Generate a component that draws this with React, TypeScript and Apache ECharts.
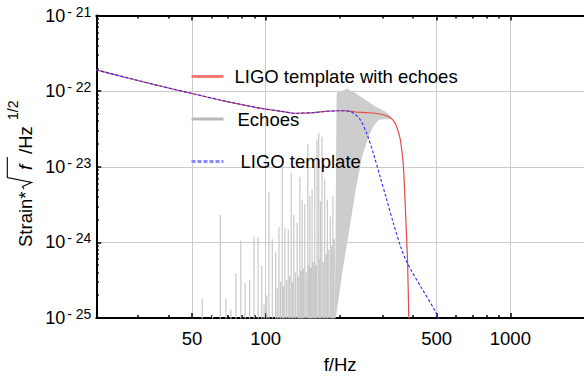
import React, { useEffect, useRef } from "react";
import * as echarts from "echarts";

const FONT = '"Liberation Sans", Arial, Helvetica, sans-serif';

// LIGO template (common part of both templates), f in Hz, strain*sqrt(f)/Hz^1/2
const templateFreq = [20.3, 27.6, 37.8, 50.0, 70.5, 96.3, 116.2, 132.4, 157.2, 175.3, 198.6, 211.9];
const templateStrain = [1.91e-22, 1.48e-22, 1.15e-22, 9.3e-23, 7.2e-23, 5.9e-23, 5.4e-23, 5.1e-23, 5.2e-23, 5.4e-23, 5.5e-23, 5.5e-23];

// tail of the plain LIGO template (blue dashed)
const templateTailFreq = [228.5, 243.3, 258.8, 275.5, 293.5, 312.2, 332.4, 359.1, 376.3, 394.4, 433.2, 491.0, 510.0];
const templateTailStrain = [5.1e-23, 4.2e-23, 2.75e-23, 1.5e-23, 7.4e-24, 3.7e-24, 1.8e-24, 8.1e-25, 5.6e-25, 4.2e-25, 2.5e-25, 1.26e-25, 9.5e-26];

// tail of the template with echoes (red)
const echoTemplateTailFreq = [232.2, 255.0, 280.0, 307.4, 327.1, 337.8, 346.0, 353.9, 360.0, 364.9, 369.0, 372.9, 376.5, 380.1, 384.9];
const echoTemplateTailStrain = [5.3e-23, 5.2e-23, 5.1e-23, 4.8e-23, 4.3e-23, 3.8e-23, 3.1e-23, 2.4e-23, 1.65e-23, 1.1e-23, 5.5e-24, 2.5e-24, 1.2e-24, 5.5e-25, 8e-26];

// echoes: dense oscillating band (upper / lower envelope)
const bandUpperFreq = [192.6, 195.8, 197.6, 204.8, 214.1, 232.2, 255.0, 280.0, 307.4, 327.1];
const bandUpperStrain = [1e-25, 8.9e-23, 9.8e-23, 9.8e-23, 1.07e-22, 9.3e-23, 7.6e-23, 6.2e-23, 5.3e-23, 4.5e-23];
const bandLowerFreq = [192.6, 204.8, 218.1, 232.2, 247.1, 263.0, 275.5, 288.7, 302.6, 317.0, 327.1];
const bandLowerStrain = [1e-25, 4.1e-25, 1.4e-24, 5.0e-24, 1.4e-23, 2.6e-23, 3.5e-23, 4.2e-23, 4.3e-23, 4.3e-23, 4.5e-23];

// echoes: individual spikes (peak heights)
const spikeFreq = [55.0, 60.7, 65.2, 68.8, 72.1, 75.5, 79.1, 82.4, 85.9, 89.6, 93.1, 96.3, 103.1, 106.4, 109.8, 113.3, 116.8, 119.8, 123.6, 127.1, 130.3, 134.4, 137.9, 140.9, 144.4, 148.6, 151.4, 154.7, 158.6, 162.1, 164.7, 167.4, 169.8, 174.2, 178.7, 183.7, 188.3];
const spikeStrain = [1.8e-25, 1.1e-25, 2.3e-24, 1.8e-25, 1.3e-25, 3.9e-25, 1.05e-24, 2.9e-25, 3.2e-25, 1.2e-24, 1.17e-24, 4.9e-25, 4.6e-24, 1.1e-24, 7.4e-25, 1.6e-24, 9.5e-24, 1.55e-24, 1.48e-24, 8.3e-24, 2.3e-24, 1.8e-24, 7.4e-24, 3.7e-24, 3.2e-24, 2.0e-23, 4.1e-24, 5.0e-24, 1.2e-23, 2.3e-23, 2.8e-23, 3.5e-24, 2.5e-23, 6.8e-24, 3.7e-24, 2.2e-24, 4.1e-24];
const lowSpikeFreq = [98.5, 101.0, 111.5, 115.0, 118.3, 121.7, 125.3, 128.7, 132.3, 136.1, 139.4, 142.6, 146.5, 150.0, 153.0, 156.6, 160.3, 166.0, 172.0, 176.5, 181.0, 186.0, 190.5];
const lowSpikeStrain = [1.5e-25, 2e-25, 2.5e-25, 3e-25, 2.6e-25, 3.2e-25, 3.6e-25, 3e-25, 4e-25, 3.5e-25, 4.2e-25, 4.5e-25, 4e-25, 5e-25, 4.6e-25, 5.5e-25, 5e-25, 6e-25, 5.5e-25, 7e-25, 8e-25, 9e-25, 1.1e-24];

// axes
const xMinHz = 20.3;
const xMaxHz = 2000;
const xMajorTicks = [50, 100, 500, 1000];
const xMinorTicks = [30, 40, 60, 70, 80, 90, 200, 300, 400, 600, 700, 800, 900];
const yMinExp = -25;
const yMaxExp = -21;
const yMinorMultipliers = [2, 3, 4, 5, 6, 7, 8, 9];

const SERIES_RED = "LIGO template with echoes";
const SERIES_GRAY = "Echoes";
const SERIES_BLUE = "LIGO template";

const lg = (v: number) => Math.log10(v);
const pts = (fs: number[], vs: number[]) => fs.map((f, i) => [lg(f), lg(vs[i])]);

const SOLID_ICON = "path://M0 0H32V3H0Z";
const DASH_ICON = "path://M0 0H4V3H0Z M6 0H10V3H6Z M12 0H16V3H12Z M18 0H22V3H18Z M24 0H28V3H24Z M30 0H32V3H30Z";

export default function App() {
  const ref = useRef<HTMLDivElement>(null);
  useEffect(() => {
    document.body.style.margin = "0";
    if (!ref.current) return;
    const chart = echarts.init(ref.current, null, { renderer: "svg" });

    const BOTTOM = yMinExp - 0.6;
    const spikeData: number[][] = [];
    const addSpikes = (fs: number[], vs: number[]) =>
      fs.forEach((f, i) => {
        spikeData.push([lg(f), BOTTOM], [lg(f), lg(vs[i])], [lg(f), BOTTOM]);
      });
    addSpikes(lowSpikeFreq, lowSpikeStrain);
    addSpikes(spikeFreq, spikeStrain);

    const xMin = lg(xMinHz);
    const xMax = lg(xMaxHz);
    const xMajor = xMajorTicks.map(lg);
    const xMinor = xMinorTicks.map(lg);
    const yMinor: number[] = [];
    for (let e = yMinExp; e < yMaxExp; e++) yMinorMultipliers.forEach((m) => yMinor.push(e + lg(m)));

    const black = "#000";
    const baseX = { type: "value", min: xMin, max: xMax, gridIndex: 0 };
    const baseY = { type: "value", min: yMinExp, max: yMaxExp, interval: 1, gridIndex: 0 };

    const option: any = {
      animation: false,
      grid: { left: 96.3, top: 15.5, bottom: 60.7, right: -2.7, containLabel: false },
      xAxis: [
        {
          ...baseX,
          position: "bottom",
          axisLine: { lineStyle: { color: black, width: 2 } },
          axisTick: { customValues: xMajor, inside: true, length: 5, lineStyle: { color: black, width: 1.5 } },
          axisLabel: {
            customValues: xMajor,
            formatter: (v: number) => String(Math.round(Math.pow(10, v))),
            fontSize: 18.5,
            fontFamily: FONT,
            color: black,
            margin: 11,
          },
          splitLine: { show: true, lineStyle: { color: "#cccccc", width: 1 } },
          name: "f/Hz",
          nameLocation: "middle",
          nameGap: 37,
          nameTextStyle: { fontSize: 18.5, fontFamily: FONT, color: black },
        },
        {
          ...baseX,
          position: "bottom",
          axisLine: { show: false },
          axisTick: { customValues: xMinor, inside: true, length: 3, lineStyle: { color: black, width: 1.5 } },
          axisLabel: { show: false },
          splitLine: { show: false },
        },
        {
          ...baseX,
          position: "top",
          axisLine: { lineStyle: { color: black, width: 2 } },
          axisTick: { customValues: xMajor, inside: true, length: 5, lineStyle: { color: black, width: 1.5 } },
          axisLabel: { show: false },
          splitLine: { show: false },
        },
        {
          ...baseX,
          position: "top",
          axisLine: { show: false },
          axisTick: { customValues: xMinor, inside: true, length: 3, lineStyle: { color: black, width: 1.5 } },
          axisLabel: { show: false },
          splitLine: { show: false },
        },
      ],
      yAxis: [
        {
          ...baseY,
          position: "left",
          axisLine: { lineStyle: { color: black, width: 2 } },
          axisTick: { inside: true, length: 5, lineStyle: { color: black, width: 1.5 } },
          axisLabel: {
            margin: 5,
            formatter: (v: number) => `{a|10}{b|- ${Math.abs(Math.round(v))}}`,
            rich: {
              a: { fontSize: 18, fontFamily: FONT, color: black, lineHeight: 22 },
              b: { fontSize: 14, fontFamily: FONT, color: black, lineHeight: 14, verticalAlign: "top", padding: [0, 0, 0, 2] },
            },
          },
          splitLine: { show: true, lineStyle: { color: "#cccccc", width: 1 } },
        },
        {
          ...baseY,
          position: "left",
          axisLine: { show: false },
          axisTick: { customValues: yMinor, inside: true, length: 2.5, lineStyle: { color: black, width: 1.5 } },
          axisLabel: { show: false },
          splitLine: { show: false },
        },
      ],
      legend: {
        orient: "vertical",
        left: 191.5,
        top: 66.5,
        padding: 0,
        itemWidth: 32,
        itemHeight: 3,
        itemGap: 22.5,
        selectedMode: false,
        textStyle: { fontSize: 18.5, fontFamily: FONT, color: black, lineHeight: 20 },
        data: [
          { name: SERIES_RED, icon: SOLID_ICON, itemStyle: { color: "#f07a7a", borderWidth: 0 }, textStyle: { padding: [0, 0, 0, 6] } },
          { name: SERIES_GRAY, icon: SOLID_ICON, itemStyle: { color: "#b9b9b9", borderWidth: 0 }, textStyle: { padding: [0, 0, 0, 9] } },
          { name: SERIES_BLUE, icon: DASH_ICON, itemStyle: { color: "#8a8aff", borderWidth: 0 }, textStyle: { padding: [0, 0, 0, 12] } },
        ],
      },
      graphic: [
        {
          type: "group",
          x: 25,
          y: 247,
          rotation: Math.PI / 2,
          silent: true,
          children: [
            { type: "text", x: 0, y: 0, style: { text: "Strain*", fontSize: 18.5, fontFamily: FONT, fill: black, verticalAlign: "middle", align: "left" } },
            {
              type: "polyline",
              shape: { points: [[58, -1], [60.5, -2.5], [64.5, 6.7], [69.5, -17.7], [90, -17.7]] },
              style: { stroke: black, lineWidth: 1.1, fill: null },
            },
            { type: "text", x: 77, y: 0, style: { text: "f", fontSize: 18.5, fontStyle: "italic", fontFamily: FONT, fill: black, verticalAlign: "middle", align: "left" } },
            { type: "text", x: 93, y: 0, style: { text: "/Hz", fontSize: 18.5, fontFamily: FONT, fill: black, verticalAlign: "middle", align: "left" } },
            { type: "text", x: 127, y: -12.5, style: { text: "1/2", fontSize: 14, fontFamily: FONT, fill: black, verticalAlign: "middle", align: "left" } },
          ],
        },
      ],
      series: [
        {
          name: SERIES_GRAY,
          type: "line",
          xAxisIndex: 0,
          yAxisIndex: 0,
          data: spikeData,
          symbol: "none",
          clip: true,
          lineStyle: { color: "#c8c8c8", width: 1.2 },
          itemStyle: { color: "#c8c8c8" },
          z: 1,
          silent: true,
        },
        {
          name: SERIES_GRAY,
          type: "custom",
          xAxisIndex: 0,
          yAxisIndex: 0,
          data: [[lg(250), -22.5]],
          z: 1,
          silent: true,
          renderItem: (_params: any, api: any) => {
            const up = pts(bandUpperFreq, bandUpperStrain).map((p) => api.coord(p));
            const lo = pts(bandLowerFreq, bandLowerStrain).map((p) => api.coord(p)).reverse();
            return { type: "polygon", shape: { points: up.concat(lo) }, style: { fill: "#cdcdcd", stroke: "#c6c6c6", lineWidth: 0.8 } };
          },
        },
        {
          name: SERIES_RED,
          type: "line",
          xAxisIndex: 0,
          yAxisIndex: 0,
          data: pts(templateFreq.concat(echoTemplateTailFreq), templateStrain.concat(echoTemplateTailStrain)),
          symbol: "none",
          smooth: 0.3,
          clip: true,
          lineStyle: { color: "#e54848", width: 1.2 },
          itemStyle: { color: "#e54848" },
          z: 3,
        },
        {
          name: SERIES_BLUE,
          type: "line",
          xAxisIndex: 0,
          yAxisIndex: 0,
          data: pts(templateFreq.concat(templateTailFreq), templateStrain.concat(templateTailStrain)),
          symbol: "none",
          smooth: 0.3,
          clip: true,
          lineStyle: { color: "#2a2aff", width: 1.1, type: [3, 2] },
          itemStyle: { color: "#2a2aff" },
          z: 4,
        },
      ],
    };
    chart.setOption(option);
    return () => chart.dispose();
  }, []);
  return <div ref={ref} style={{ width: 584, height: 379 }} />;
}
